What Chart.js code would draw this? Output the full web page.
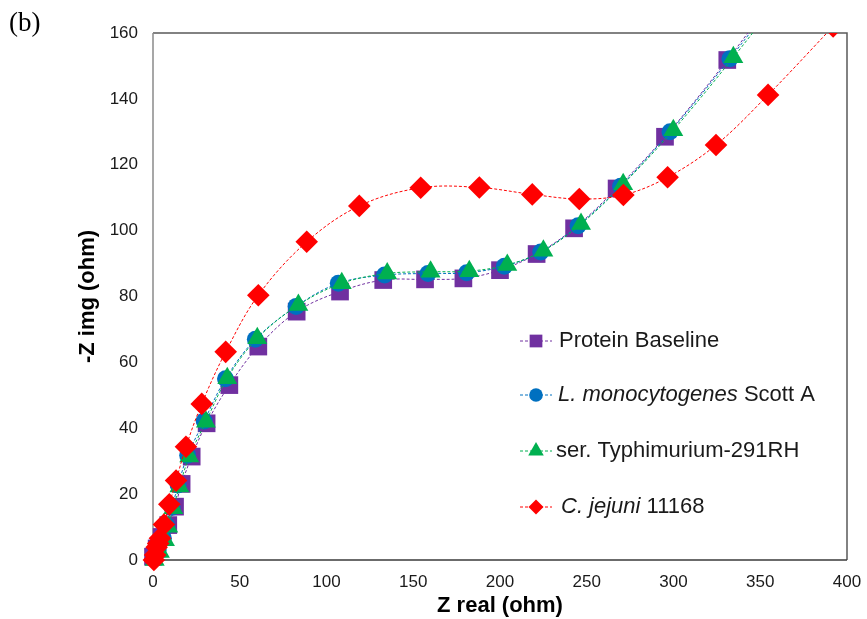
<!DOCTYPE html>
<html>
<head>
<meta charset="utf-8">
<script src="https://cdn.jsdelivr.net/npm/chart.js@4/dist/chart.umd.min.js"></script>
<style>
  html, body { margin: 0; padding: 0; background: #fff; }
  #wrap { width: 867px; height: 619px; }
</style>
</head>
<body>
<div id="wrap"><canvas id="chart" width="867" height="619"></canvas></div>
<script>
// Nyquist-Daten (Z real / -Z img in Ohm)
const seriesNames = ['Protein Baseline', 'L. monocytogenes Scott A', 'ser. Typhimurium-291RH', 'C. jejuni 11168'];

const baselineX = [0, 2.1, 5, 8.8, 12.7, 16.5, 22.3, 30.9, 44, 60.7, 82.8, 107.8, 132.7, 156.8, 178.9, 200, 221.1, 242.7, 267.2, 295.1, 331, 368];
const baselineY = [1, 3.5, 7, 10.6, 16.2, 23.1, 31.4, 41.5, 53.1, 64.8, 75.4, 81.5, 85, 85.2, 85.5, 88, 92.9, 100.7, 112.8, 128.5, 151.8, 178];

const listeriaX = [0.5, 3, 6, 8, 11, 14.5, 20, 29.5, 41.8, 59, 82.5, 106.8, 133.5, 158.5, 180.8, 202.5, 223.5, 245, 269.5, 298, 332.5, 370];
const listeriaY = [0.5, 3, 6.5, 10.5, 16, 22.8, 31.8, 42.2, 55, 67, 77, 84, 86.5, 87, 87.2, 89.2, 93.5, 101.5, 113.5, 130, 152.2, 178];

const salmonellaX = [1, 4, 6.9, 8.8, 11.7, 15.2, 20.9, 30.5, 42.8, 60.1, 83.8, 108.8, 135, 160, 182.3, 204.2, 225, 246.7, 271, 299.9, 334.5, 372];
const salmonellaY = [0, 2.4, 6, 10.1, 15.7, 22.3, 31.4, 42, 55.2, 67.3, 77.4, 84, 87, 87.5, 87.7, 89.6, 93.9, 102, 114.1, 130.5, 152.6, 178];

const jejuniX = [0.5, 1.2, 2.1, 3, 4, 6.3, 9.4, 13.3, 19, 28.1, 41.9, 60.7, 88.6, 118.9, 154.3, 188.1, 218.6, 245.7, 271.1, 296.6, 324.5, 354.5, 392];
const jejuniY = [0, 1.5, 3.9, 5, 6.6, 10.8, 16.9, 24.1, 34.4, 47.4, 63.2, 80.4, 96.6, 107.5, 113, 113.1, 111, 109.6, 110.8, 116.2, 126, 141.2, 162];

// Legende: Textteile (Text, kursiv?)
const legendParts = [
  [['Protein Baseline', false]],
  [['L. monocytogenes', true], [' Scott A', false]],
  [['ser. Typhimurium-291RH', false]],
  [['C. jejuni', true], [' 11168', false]]
];

const colors = ['#7030A0', '#0070C0', '#00B050', '#FF0000'];
const shapes = ['rect', 'circle', 'triangle', 'rectRot'];
const radii = [12.5, 8.5, 11.5, 11.3];

const FONT = "'Liberation Sans', Arial, sans-serif";

function toPoints(xs, ys) {
  return xs.map((x, i) => ({ x: x, y: ys[i] }));
}

function makeDataset(idx, xs, ys) {
  return {
    label: seriesNames[idx],
    data: toPoints(xs, ys),
    showLine: true,
    borderColor: colors[idx],
    borderWidth: 1,
    borderDash: [3, 2],
    tension: 0.35,
    pointStyle: shapes[idx],
    pointRadius: radii[idx],
    pointBackgroundColor: colors[idx],
    pointBorderWidth: 0,
    pointHoverRadius: radii[idx],
    order: 4 - idx,
    clip: { left: 14, bottom: 14, top: 0, right: 0 }
  };
}

function drawMarker(ctx, style, x, y, r, color) {
  ctx.fillStyle = color;
  ctx.beginPath();
  if (style === 'rect') {
    const s = r * Math.SQRT1_2;
    ctx.rect(x - s, y - s, 2 * s, 2 * s);
  } else if (style === 'circle') {
    ctx.arc(x, y, r, 0, Math.PI * 2);
  } else if (style === 'triangle') {
    ctx.moveTo(x, y - r);
    ctx.lineTo(x + r * 0.866, y + r / 2);
    ctx.lineTo(x - r * 0.866, y + r / 2);
    ctx.closePath();
  } else {
    ctx.moveTo(x, y - r);
    ctx.lineTo(x + r, y);
    ctx.lineTo(x, y + r);
    ctx.lineTo(x - r, y);
    ctx.closePath();
  }
  ctx.fill();
}

// Rahmen um den Plotbereich
const framePlugin = {
  id: 'frame',
  beforeDatasetsDraw(chart) {
    const { ctx, chartArea: a } = chart;
    ctx.save();
    ctx.lineWidth = 1.5;
    ctx.strokeStyle = '#5a5a5a';
    ctx.beginPath();
    ctx.moveTo(a.left, a.top);
    ctx.lineTo(a.right, a.top);
    ctx.lineTo(a.right, a.bottom);
    ctx.stroke();
    ctx.strokeStyle = '#3a3a3a';
    ctx.beginPath();
    ctx.moveTo(a.left, a.bottom);
    ctx.lineTo(a.right, a.bottom);
    ctx.stroke();
    ctx.strokeStyle = '#8a8a8a';
    ctx.beginPath();
    ctx.moveTo(a.left, a.top);
    ctx.lineTo(a.left, a.bottom);
    ctx.stroke();
    ctx.restore();
  }
};

// Legende im Diagramm + "(b)"
const legendPlugin = {
  id: 'innerLegend',
  afterDraw(chart) {
    const ctx = chart.ctx;
    const rowsY = [341, 395, 451, 507];
    const lineX0 = 520, lineX1 = 552, markX = 536, textX = [559, 558, 556, 561];
    const legR = [9, 6.8, 9, 7.5];
    ctx.save();
    legendParts.forEach((parts, i) => {
      const y = rowsY[i];
      ctx.strokeStyle = colors[i];
      ctx.lineWidth = 1;
      ctx.setLineDash([3, 2]);
      ctx.beginPath();
      ctx.moveTo(lineX0, y);
      ctx.lineTo(lineX1, y);
      ctx.stroke();
      ctx.setLineDash([]);
      drawMarker(ctx, shapes[i], markX, y, legR[i], colors[i]);

      let x = textX[i];
      ctx.fillStyle = '#1a1a1a';
      ctx.textBaseline = 'middle';
      ctx.textAlign = 'left';
      parts.forEach(([txt, ital]) => {
        ctx.font = (ital ? 'italic ' : '') + '22px ' + FONT;
        ctx.fillText(txt, x, y);
        x += ctx.measureText(txt).width;
      });
    });
    ctx.font = "27px 'Liberation Serif', 'Times New Roman', serif";
    ctx.fillStyle = '#000';
    ctx.textBaseline = 'alphabetic';
    ctx.fillText('(b)', 9, 31);
    ctx.restore();
  }
};

new Chart(document.getElementById('chart'), {
  type: 'scatter',
  data: {
    datasets: [
      makeDataset(0, baselineX, baselineY),
      makeDataset(1, listeriaX, listeriaY),
      makeDataset(2, salmonellaX, salmonellaY),
      makeDataset(3, jejuniX, jejuniY)
    ]
  },
  options: {
    responsive: false,
    animation: false,
    layout: { padding: { left: 0, right: 20, top: 33, bottom: 0 } },
    plugins: {
      legend: { display: false },
      tooltip: { enabled: false }
    },
    scales: {
      x: {
        type: 'linear',
        min: 0,
        max: 400,
        border: { display: false },
        grid: { display: false, drawTicks: false },
        ticks: {
          stepSize: 50,
          padding: 12,
          color: '#1a1a1a',
          font: { family: FONT, size: 17 }
        },
        title: {
          display: true,
          text: 'Z real (ohm)',
          color: '#000',
          font: { family: FONT, size: 22, weight: 'bold' },
          padding: { top: 0, bottom: 0 }
        },
        afterFit(scale) {
          scale.height = 59;
          scale.paddingLeft = 0;
          scale.paddingRight = 0;
        }
      },
      y: {
        type: 'linear',
        min: 0,
        max: 160,
        border: { display: false },
        grid: { display: false, drawTicks: false },
        ticks: {
          stepSize: 20,
          padding: 15,
          color: '#1a1a1a',
          font: { family: FONT, size: 17 }
        },
        title: {
          display: true,
          text: '-Z img (ohm)',
          color: '#000',
          font: { family: FONT, size: 22, weight: 'bold' },
          padding: { top: 75, bottom: 0 }
        },
        afterFit(scale) {
          scale.width = 153;
          scale.paddingTop = 0;
          scale.paddingBottom = 0;
        }
      }
    }
  },
  plugins: [framePlugin, legendPlugin]
});
</script>
</body>
</html>
